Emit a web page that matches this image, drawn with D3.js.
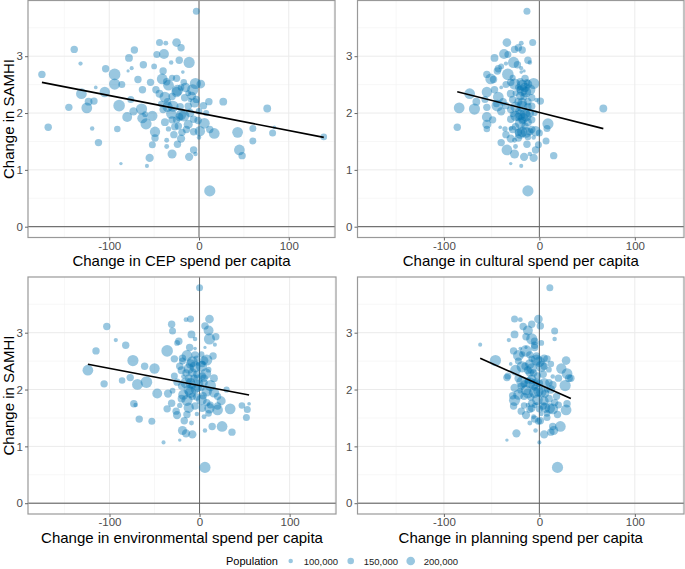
<!DOCTYPE html>
<html>
<head>
<meta charset="utf-8">
<script src="https://cdn.jsdelivr.net/npm/d3@7"></script>
<style>
  body { margin: 0; background: #fff; }
  svg { display: block; font-family: "Liberation Sans", Arial, sans-serif; }
</style>
</head>
<body>
<svg width="685" height="569"></svg>
<script>
// change in SAMHI (same areas in all four panels)
var samhi = [2.68,1.75,3.12,2.87,2.10,2.34,2.09,2.20,2.21,2.45,1.73,1.48,2.78,2.37,2.68,2.51,2.13,1.72,2.50,1.11,
  2.74,2.79,3.11,2.97,1.93,2.24,2.59,2.07,2.85,2.41,1.81,1.07,1.21,2.54,1.44,1.67,1.56,3.03,3.24,3.23,
  3.04,2.60,2.89,2.03,1.91,1.95,2.41,2.34,2.28,2.20,2.11,1.99,1.88,1.76,1.62,1.52,1.41,1.28,2.49,2.55,
  2.74,2.61,2.37,2.06,3.79,3.24,3.15,2.93,2.89,2.54,2.52,2.51,2.40,2.41,2.29,2.27,2.23,2.24,2.12,2.11,
  2.12,2.13,2.20,2.20,1.95,1.97,1.88,1.89,1.82,1.87,1.77,1.71,1.66,1.67,1.68,1.71,1.64,1.57,1.45,1.35,
  1.28,1.23,0.63,1.66,1.35,1.25,1.73,1.51,2.08,1.65,1.75,1.58,2.72,2.45,2.30,2.00,1.80,2.16,1.84,2.35,
  2.03,1.93,2.62,2.18,1.72,2.45,1.55,2.00,2.82,1.98];

var population = [170000,170000,170000,95000,170000,250000,250000,180000,170000,80000,100000,170000,170000,240000,270000,260000,270000,150000,160000,75000,
  70000,90000,170000,180000,230000,160000,170000,260000,170000,170000,260000,90000,190000,170000,160000,240000,170000,160000,160000,110000,
  230000,250000,100000,190000,240000,240000,170000,180000,250000,170000,240000,240000,170000,170000,170000,110000,110000,210000,250000,170000,
  170000,170000,240000,170000,160000,200000,170000,170000,260000,150000,260000,200000,260000,260000,170000,170000,100000,170000,260000,170000,
  170000,170000,170000,180000,260000,240000,170000,170000,250000,170000,170000,170000,170000,170000,240000,170000,250000,100000,170000,170000,
  100000,190000,260000,250000,250000,170000,160000,160000,180000,160000,80000,150000,80000,150000,200000,200000,210000,150000,180000,130000,
  150000,190000,140000,220000,120000,220000,190000,140000,130000,130000];

var cepSpend = [-175,-168,-139,-132,-145,-131,-125,-123,-117,-115,-119,-112,-104,-105,-94,-94,-89,-91,-86,-87,
  -79,-75,-72,-78,-80,-76,-68,-64,-62,-63,-59,-58,-55,-54,-52,-49,-49,-47,-44,-37,
  -39,-41,-31,-73,-63,-52,-48,-44,-38,-35,-35,-31,-30,-27,-28,-36,-36,-30,-34,-36,
  -40,-25,-25,-40,-3,-25,-20,-22,-11,-17,-4,2,-24,-7,-30,-16,-10,-3,-29,-21,
  -12,5,11,27,-17,-20,-25,-6,6,-1,-23,-14,-19,-6,1,12,17,0,-24,-6,
  -4,-11,12,43,45,48,60,60,76,82,84,139,-18,-20,-8,-10,-12,-42,-38,-12,
  0,-22,-30,-5,-34,-15,-20,8,-50,-60];

var culturalSpend = [-55,-86,-26,-35,-55,-73,-84,-66,1,-40,-30,-40,-43,-55,-33,-26,-44,-55,-35,-30,
  -16,-19,-18,-47,-55,-57,-48,-68,-23,-47,9,-19,-6,-30,-1,-18,-22,-33,-7,-19,
  -37,-51,-10,-40,-17,-25,-20,-30,-43,-38,-25,-15,-49,-25,-35,-26,-25,-26,-18,-20,
  -44,-15,-14,-30,-13,-34,-22,-12,-27,-13,-6,-12,-18,-10,-16,-8,-3,-28,-18,-12,
  -8,-35,-12,-22,-14,-20,-8,-30,-20,-18,-15,-8,-22,-10,-4,-28,-20,-6,-13,-4,
  -10,-16,-12,-14,-34,15,8,7,67,0,-41,-12,-19,-22,-20,-10,-55,-45,-12,-25,
  -22,-22,-28,-18,-36,-15,-30,-5,-40,-28];

var environmentalSpend = [-115,-73,6,-93,-106,-124,-69,-12,-77,-2,-71,-67,-82,-50,-36,-74,-59,47,-19,-22,
  6,17,-103,-9,-47,-28,15,12,-23,-61,-14,-40,-8,-28,-53,11,-14,-30,-10,-15,
  10,-14,-5,-2,-18,16,-22,-20,7,5,-10,-12,20,-31,-26,5,-9,-19,-8,-19,
  -11,-5,-12,-20,0,11,-31,18,11,-3,8,5,-5,2,-15,-3,-18,3,-15,0,
  5,-25,-6,16,-10,8,-8,4,2,-3,8,-5,-36,3,-12,20,20,-3,-17,14,
  6,-15,6,34,25,36,12,52,-8,53,55,10,-5,3,-8,-5,24,-86,-20,10,
  2,-35,2,-2,-22,-10,-25,30,-25,-30];

var planningSpend = [-27,29,1,-32,-16,-25,-6,-22,-34,-30,-12,-5,-5,23,-14,-46,-18,-16,-22,-34,
  -14,-62,-17,-26,-12,-33,-3,27,-5,-15,-26,0,5,8,-1,11,19,16,-26,-20,
  -12,-22,16,-26,-22,2,5,-12,29,20,5,-14,-16,-8,-19,-6,-10,15,0,5,
  -5,-10,-8,-19,11,-1,-8,-14,-8,-8,-3,28,-18,2,-6,4,14,-2,-10,0,
  10,-3,33,31,-5,-1,18,-28,-2,-9,16,-27,0,-8,6,4,28,2,1,14,
  -4,-24,19,14,22,12,20,8,14,-10,-3,8,-20,12,-10,12,5,-12,10,10,
  -5,6,-18,-8,-5,-10,-14,8,2,-20];

// fitted lines: intercept and slope per panel
var fitIntercept = [2.00, 2.01, 2.07, 2.087];
var fitSlope = [-0.00308, -0.00425, -0.00303, -0.00747];

var xTicks = [-100, 0, 100];
var xMinor = [-150, -50, 50, 150];
var yTicks = [0, 1, 2, 3];
var yMinor = [0.5, 1.5, 2.5, 3.5];
var legendValues = [100000, 150000, 200000];

var panels = [
  {x: cepSpend, title: "Change in CEP spend per capita", left: 28, right: 335, top: 0.5, bottom: 237.5, titleY: 266, ylab: true},
  {x: culturalSpend, title: "Change in cultural spend per capita", left: 357.5, right: 684, top: 0.5, bottom: 237.5, titleY: 266, ylab: false},
  {x: environmentalSpend, title: "Change in environmental spend per capita", left: 28, right: 336, top: 277, bottom: 514, titleY: 542.5, ylab: true},
  {x: planningSpend, title: "Change in planning spend per capita", left: 357.5, right: 684, top: 277, bottom: 514, titleY: 542.5, ylab: false}
];

var pointColor = "#0072B2";
var svg = d3.select("svg");

// point size scale (radius in px)
var r = d3.scaleLinear().domain([40000, 280000]).range([1, 6]);

panels.forEach(function(p, k) {
  var x = d3.scaleLinear().domain([-190.5, 151.5]).range([p.left, p.right]);
  var y = d3.scaleLinear().domain([-0.19, 3.98]).range([p.bottom, p.top]);
  var g = svg.append("g");

  // grid
  g.selectAll(".vminor").data(xMinor).enter().append("line")
    .attr("x1", x).attr("x2", x).attr("y1", p.top).attr("y2", p.bottom)
    .attr("stroke", "#f2f2f2").attr("stroke-width", 0.6);
  g.selectAll(".hminor").data(yMinor).enter().append("line")
    .attr("x1", p.left).attr("x2", p.right).attr("y1", y).attr("y2", y)
    .attr("stroke", "#f2f2f2").attr("stroke-width", 0.6);
  g.selectAll(".vmajor").data(xTicks).enter().append("line")
    .attr("x1", x).attr("x2", x).attr("y1", p.top).attr("y2", p.bottom)
    .attr("stroke", "#ebebeb").attr("stroke-width", 1);
  g.selectAll(".hmajor").data(yTicks).enter().append("line")
    .attr("x1", p.left).attr("x2", p.right).attr("y1", y).attr("y2", y)
    .attr("stroke", "#ebebeb").attr("stroke-width", 1);

  // reference lines at zero
  g.append("line").attr("x1", p.left).attr("x2", p.right).attr("y1", y(0)).attr("y2", y(0))
    .attr("stroke", "#555").attr("stroke-width", 1);
  g.append("line").attr("x1", x(0)).attr("x2", x(0)).attr("y1", p.top).attr("y2", p.bottom)
    .attr("stroke", "#666").attr("stroke-width", 1);

  // points
  g.append("g").selectAll("circle")
    .data(samhi)
    .enter().append("circle")
    .attr("cx", function(d, i) { return x(p.x[i]); })
    .attr("cy", function(d) { return y(d); })
    .attr("r", function(d, i) { return r(population[i]); })
    .attr("fill", pointColor)
    .attr("fill-opacity", 0.4);

  // regression line over the range of the data
  var ext = d3.extent(p.x);
  g.append("line")
    .attr("x1", x(ext[0])).attr("y1", y(fitIntercept[k] + fitSlope[k] * ext[0]))
    .attr("x2", x(ext[1])).attr("y2", y(fitIntercept[k] + fitSlope[k] * ext[1]))
    .attr("stroke", "#000").attr("stroke-width", 1.6);

  // border
  g.append("rect")
    .attr("x", p.left).attr("y", p.top)
    .attr("width", p.right - p.left).attr("height", p.bottom - p.top)
    .attr("fill", "none").attr("stroke", "#999").attr("stroke-width", 1.2);

  // axes
  var ax = g.append("g")
    .attr("transform", "translate(0," + p.bottom + ")")
    .call(d3.axisBottom(x).tickValues(xTicks).tickSize(3).tickPadding(1).tickFormat(function(d) { return String(d); }));
  var ay = g.append("g")
    .attr("transform", "translate(" + p.left + ",0)")
    .call(d3.axisLeft(y).tickValues(yTicks).tickSize(3).tickPadding(2).tickFormat(function(d) { return String(d); }));
  [ax, ay].forEach(function(a) {
    a.select(".domain").remove();
    a.selectAll(".tick line").attr("stroke", "#666");
    a.selectAll(".tick text").attr("fill", "#4d4d4d").attr("font-size", 11.5)
      .attr("font-family", "Liberation Sans, Arial, sans-serif");
  });

  // titles
  svg.append("text")
    .attr("x", (p.left + p.right) / 2).attr("y", p.titleY)
    .attr("text-anchor", "middle").attr("font-size", 15).attr("fill", "#000")
    .text(p.title);
  if (p.ylab) {
    svg.append("text")
      .attr("transform", "translate(13.5," + ((p.top + p.bottom) / 2) + ") rotate(-90)")
      .attr("text-anchor", "middle").attr("font-size", 15).attr("fill", "#000")
      .text("Change in SAMHI");
  }
});

// legend
var legend = svg.append("g");
legend.append("text").attr("x", 226).attr("y", 565).attr("font-size", 11).attr("fill", "#000").text("Population");
var item = legend.selectAll(".item").data(legendValues).enter().append("g")
  .attr("transform", function(d, i) { return "translate(" + (290.7 + i * 60) + ",561)"; });
item.append("circle").attr("r", function(d) { return r(d); })
  .attr("fill", pointColor).attr("fill-opacity", 0.4);
item.append("text").attr("x", 13).attr("y", 3.5).attr("font-size", 9.5).attr("fill", "#1a1a1a")
  .text(function(d) { return d3.format(",")(d); });
</script>
</body>
</html>
